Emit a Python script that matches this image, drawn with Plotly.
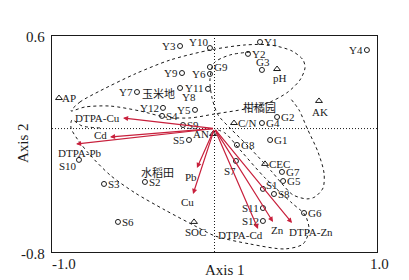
import plotly.graph_objects as go

# ---------------- data ----------------
site_names = ["Y1", "Y2", "Y3", "Y4", "Y5", "Y6", "Y7", "Y8", "Y9", "Y10", "Y11", "Y12",
              "G1", "G2", "G3", "G4", "G5", "G6", "G7", "G8", "G9",
              "S1", "S2", "S3", "S4", "S5", "S6", "S7", "S8", "S9", "S10", "S11", "S12"]
site_x = [0.280, 0.206, -0.212, 0.938, -0.120, -0.028, -0.477, -0.212, -0.200, -0.028, -0.040, -0.317,
          0.342, 0.385, 0.292, 0.292, 0.422, 0.551, 0.415, 0.138, -0.028,
          0.298, -0.428, -0.680, -0.323, -0.157, -0.594, 0.132, 0.366, -0.194, -0.834, 0.298, 0.298]
site_y = [0.561, 0.484, 0.535, 0.509, 0.121, 0.354, 0.237, 0.263, 0.360, 0.522, 0.257, 0.134,
          -0.074, 0.075, 0.380, 0.036, -0.340, -0.547, -0.281, -0.106, 0.399,
          -0.391, -0.346, -0.359, 0.082, -0.074, -0.605, -0.210, -0.424, 0.023, -0.203, -0.515, -0.599]

env_names = ["AP", "pH", "AK", "C/N", "CEC", "SOC", "AN"]
env_x = [-0.957, 0.385, 0.643, 0.120, 0.311, -0.126, -0.009]
env_y = [0.198, 0.386, 0.179, 0.036, -0.229, -0.605, -0.035]

metal_names = ["DTPA-Cu", "Cd", "DTPA-Pb", "Pb", "Cu", "DTPA-Cd", "Zn", "DTPA-Zn"]
metal_x = [-0.563, -0.643, -0.852, -0.108, -0.132, 0.268, 0.360, 0.477]
metal_y = [0.069, -0.054, -0.100, -0.255, -0.424, -0.651, -0.605, -0.612]

group_names = ["玉米地", "柑橘园", "水稻田"]
group_x = [-0.342, 0.274, -0.348]
group_y = [0.231, 0.140, -0.281]

# hand-drawn group outlines (axis units)
corn_zone_x = [-0.883, -0.828, -0.705, -0.489, -0.274, -0.028, 0.188, 0.342, 0.477, 0.545, 0.557,
               0.526, 0.452, 0.342, 0.188, 0.003, -0.151, -0.305, -0.458, -0.643, -0.797, -0.883]
corn_zone_y = [0.114, 0.172, 0.244, 0.354, 0.444, 0.509, 0.542, 0.542, 0.503, 0.445, 0.393,
               0.315, 0.237, 0.172, 0.127, 0.095, 0.069, 0.075, 0.114, 0.146, 0.140, 0.114]
paddy_zone_x = [-0.705, -0.815, -0.877, -0.883, -0.840, -0.766, -0.643, -0.489, -0.305, -0.120, 0.003,
                0.218, 0.434, 0.545, 0.582, 0.557, 0.477, 0.311, 0.169, 0.065, 0.003]
paddy_zone_y = [0.004, 0.017, 0.056, 0.004, -0.074, -0.171, -0.301, -0.417, -0.528, -0.631, -0.696,
                -0.748, -0.780, -0.748, -0.657, -0.560, -0.483, -0.320, -0.152, -0.029, -0.003]
citrus_zone_x = [0.218, 0.095, -0.003, -0.028, -0.015, 0.022, 0.095, 0.218, 0.354, 0.422, 0.483,
                 0.569, 0.618, 0.668, 0.674, 0.637, 0.569, 0.520, 0.465]
citrus_zone_y = [0.496, 0.477, 0.425, 0.315, 0.198, 0.088, 0.004, -0.126, -0.281, -0.366, -0.430,
                 -0.456, -0.443, -0.385, -0.288, -0.152, 0.004, 0.121, 0.198]

x_tick_labels = ["-1.0", "1.0"]
y_tick_labels = ["0.6", "-0.8"]
x_title = "Axis 1"
y_title = "Axis 2"

# ---------------- styling ----------------
SERIF = "Liberation Serif, Times New Roman, serif"
CJK = "Noto Sans CJK SC"
INK = "#1a1a1a"
RED = "#c8203c"
R = ("left", 3, 0)
L = ("right", -3, 0)
site_place = {
    "Y1": R, "Y2": R, "Y3": L, "Y4": L, "Y5": L, "Y6": L, "Y7": L, "Y8": ("left", 1, -9),
    "Y9": L, "Y10": ("right", -1, 6), "Y11": ("right", -3, 1), "Y12": L,
    "G1": R, "G2": R, "G3": ("center", 1, 8), "G4": R, "G5": R, "G6": R, "G7": R, "G8": R, "G9": R,
    "S1": ("left", 2, 4), "S2": R, "S3": R, "S4": R, "S5": L, "S6": R, "S7": ("center", -6, -10),
    "S8": R, "S9": R, "S10": ("center", -11, -6), "S11": L, "S12": L,
}
env_place = {"AP": ("left", 2, 0), "pH": ("center", 3, -9), "AK": ("center", 1, -11),
             "C/N": ("left", 3, 0), "CEC": ("left", 3, 0), "SOC": ("center", 1, -10),
             "AN": ("right", -3, 0)}
metal_place = {"DTPA-Cu": ("right", -2, 0), "Cd": ("right", -2, 2), "DTPA-Pb": ("center", 3, -9),
               "Pb": ("center", -6, -9), "Cu": ("center", -6, -8), "DTPA-Cd": ("center", -18, -6),
               "Zn": ("center", 4, -8), "DTPA-Zn": ("center", 19, -9)}

fig = go.Figure()

dash_style = dict(color=INK, width=1, dash="3px,3px", shape="spline", smoothing=0.8)
for zx, zy in [(corn_zone_x, corn_zone_y), (paddy_zone_x, paddy_zone_y), (citrus_zone_x, citrus_zone_y)]:
    fig.add_trace(go.Scatter(x=zx, y=zy, mode="lines", line=dash_style, hoverinfo="skip", showlegend=False))

fig.add_trace(go.Scatter(x=site_x, y=site_y, mode="markers",
                         marker=dict(symbol="circle-open", size=5, color=INK, line=dict(width=1, color=INK)),
                         showlegend=False))
fig.add_trace(go.Scatter(x=env_x, y=env_y, mode="markers",
                         marker=dict(symbol="triangle-up-open", size=6, color=INK, line=dict(width=1, color=INK)),
                         showlegend=False))

ann = []
lab_font = dict(family=SERIF, size=11, color=INK)
for n, x, y in zip(site_names, site_x, site_y):
    xa, dx, dy = site_place[n]
    ann.append(dict(x=x, y=y, xref="x", yref="y", text=n, showarrow=False, xanchor=xa,
                    yanchor="middle", xshift=dx, yshift=dy, font=lab_font, borderpad=0))
for n, x, y in zip(env_names, env_x, env_y):
    xa, dx, dy = env_place[n]
    ann.append(dict(x=x, y=y, xref="x", yref="y", text=n, showarrow=False, xanchor=xa,
                    yanchor="middle", xshift=dx, yshift=dy, font=lab_font, borderpad=0))
for n, x, y in zip(metal_names, metal_x, metal_y):
    ann.append(dict(x=x, y=y, xref="x", yref="y", ax=0, ay=0, axref="x", ayref="y", text="",
                    showarrow=True, arrowhead=2, arrowsize=0.85, arrowwidth=1.2, arrowcolor=RED, standoff=0))
    xa, dx, dy = metal_place[n]
    ann.append(dict(x=x, y=y, xref="x", yref="y", text=n, showarrow=False, xanchor=xa,
                    yanchor="middle", xshift=dx, yshift=dy, font=lab_font, borderpad=0))
for n, x, y in zip(group_names, group_x, group_y):
    ann.append(dict(x=x, y=y, xref="x", yref="y", text=n, showarrow=False,
                    font=dict(family=CJK, size=11, color=INK), borderpad=0))

tick_font = dict(family=SERIF, size=15, color=INK)
for t, px in zip(x_tick_labels, [0.037, 1.009]):
    ann.append(dict(x=px, y=-0.056, xref="paper", yref="paper", text=t, showarrow=False,
                    xanchor="center", yanchor="middle", font=tick_font))
for t, py in zip(y_tick_labels, [0.995, -0.009]):
    ann.append(dict(x=-0.0154, y=py, xref="paper", yref="paper", text=t, showarrow=False,
                    xanchor="right", yanchor="middle", font=tick_font))
ann.append(dict(x=0.532, y=-0.083, xref="paper", yref="paper", text=x_title, showarrow=False,
                xanchor="center", yanchor="middle", font=tick_font))
ann.append(dict(x=-0.089, y=0.505, xref="paper", yref="paper", text=y_title, showarrow=False,
                xanchor="center", yanchor="middle", textangle=-90, font=tick_font))

shapes = [
    dict(type="line", xref="x", yref="y", x0=0, x1=0, y0=-0.8, y1=0.6,
         line=dict(color=INK, width=1, dash="1px,2px"), layer="below"),
    dict(type="line", xref="x", yref="y", x0=-1, x1=1, y0=0, y1=0,
         line=dict(color=INK, width=1, dash="1px,2px"), layer="below"),
]

fig.update_layout(
    width=409, height=280,
    margin=dict(l=52, r=32, t=36, b=28),
    paper_bgcolor="white", plot_bgcolor="white",
    showlegend=False,
    annotations=ann, shapes=shapes,
    xaxis=dict(range=[-1, 1], showgrid=False, zeroline=False, showticklabels=False, ticks="",
               showline=True, mirror=True, linecolor=INK, linewidth=1),
    yaxis=dict(range=[-0.8, 0.6], showgrid=False, zeroline=False, showticklabels=False, ticks="",
               showline=True, mirror=True, linecolor=INK, linewidth=1),
)

fig.write_html("out.html")
